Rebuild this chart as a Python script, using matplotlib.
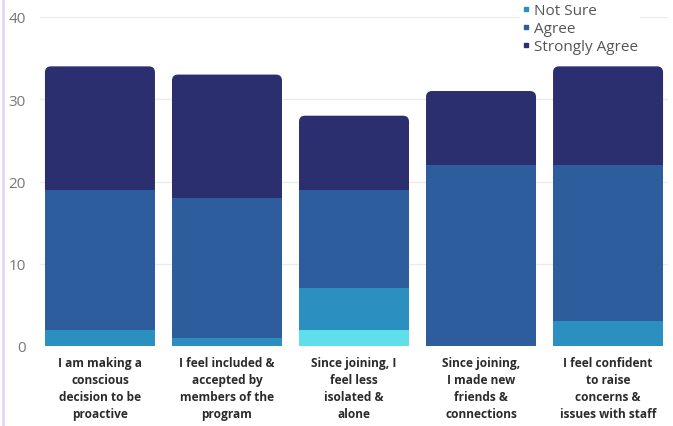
import matplotlib
matplotlib.use("Agg")
import matplotlib.pyplot as plt
from matplotlib.patches import FancyBboxPatch
from matplotlib.lines import Line2D
import numpy as np

categories = [
    "I am making a\nconscious\ndecision to be\nproactive",
    "I feel included &\naccepted by\nmembers of the\nprogram",
    "Since joining, I\nfeel less\nisolated &\nalone",
    "Since joining,\nI made new\nfriends &\nconnections",
    "I feel confident\nto raise\nconcerns &\nissues with staff",
]
series_names = ["Disagree", "Not Sure", "Agree", "Strongly Agree"]
disagree = [0, 0, 2, 0, 0]
not_sure = [2, 1, 5, 0, 3]
agree = [17, 17, 12, 22, 19]
strongly_agree = [15, 15, 9, 9, 12]
yticks = [0, 10, 20, 30, 40]

colors = ["#5fdfe9", "#2b8fbf", "#2d5d9c", "#2c2f6f"]
series = [disagree, not_sure, agree, strongly_agree]

plt.rcParams['font.family'] = ['Open Sans', 'DejaVu Sans']

fig = plt.figure(figsize=(6.73, 4.27), dpi=100)
ax = fig.add_axes([40/673, (427-347)/427, (668-40)/673, (347-18)/427])

x = np.arange(len(categories))
width = 0.866
ax.set_xlim(-0.472, 4.472)
ax.set_ylim(0, 40)

xpx = (668 - 40) / (ax.get_xlim()[1] - ax.get_xlim()[0])
ypx = (347 - 18) / 40.0
aspect = xpx / ypx
rpx = 6.0

bottoms = np.zeros(len(categories))
for si, (vals, col, name) in enumerate(zip(series, colors, series_names)):
    vals = np.array(vals, dtype=float)
    for i in range(len(categories)):
        if vals[i] <= 0:
            continue
        is_top = all(series[sj][i] == 0 for sj in range(si + 1, len(series)))
        if is_top:
            ext = 0.9
            patch = FancyBboxPatch((x[i] - width / 2, bottoms[i] - ext), width, vals[i] + ext,
                                   boxstyle=f"round,pad=0,rounding_size={rpx / xpx}",
                                   mutation_aspect=aspect, facecolor=col, edgecolor='none',
                                   linewidth=0, zorder=2)
            ax.add_patch(patch)
        else:
            ax.bar(x[i], vals[i], width, bottom=bottoms[i], color=col, zorder=3, linewidth=0)
    bottoms += vals

handles = [Line2D([0], [0], marker='s', linestyle='none', markersize=3.5,
                  markerfacecolor=colors[k], markeredgecolor=colors[k]) for k in (1, 2, 3)]
leg = ax.legend(handles, ["Not Sure", "Agree", "Strongly Agree"], loc='upper left',
                bbox_to_anchor=((512 - 40) / 628, 1.07), frameon=True, facecolor='white',
                edgecolor='none', framealpha=1, fontsize=11, handletextpad=0.25,
                labelspacing=0.2, borderpad=0.1, handlelength=0.6, labelcolor='#555555')
leg.set_zorder(5)

ax.set_yticks(yticks)
ax.set_yticklabels([str(v) for v in yticks], color='#777777', fontsize=11)
ax.tick_params(axis='y', length=0, pad=10)
ax.set_xticks(x)
ax.set_xticklabels(categories, fontsize=8.6, fontweight='bold', color='#2b2b2b', linespacing=1.42)
ax.tick_params(axis='x', length=0, pad=7)
ax.yaxis.grid(True, color='#ebebeb', linewidth=1.0, zorder=0)
ax.set_axisbelow(True)
for s in ax.spines.values():
    s.set_visible(False)

fig.add_artist(Line2D([3/673, 3/673], [0, 1], transform=fig.transFigure, color='#e2d5f3', linewidth=2))

fig.savefig("out.png", dpi=100)
